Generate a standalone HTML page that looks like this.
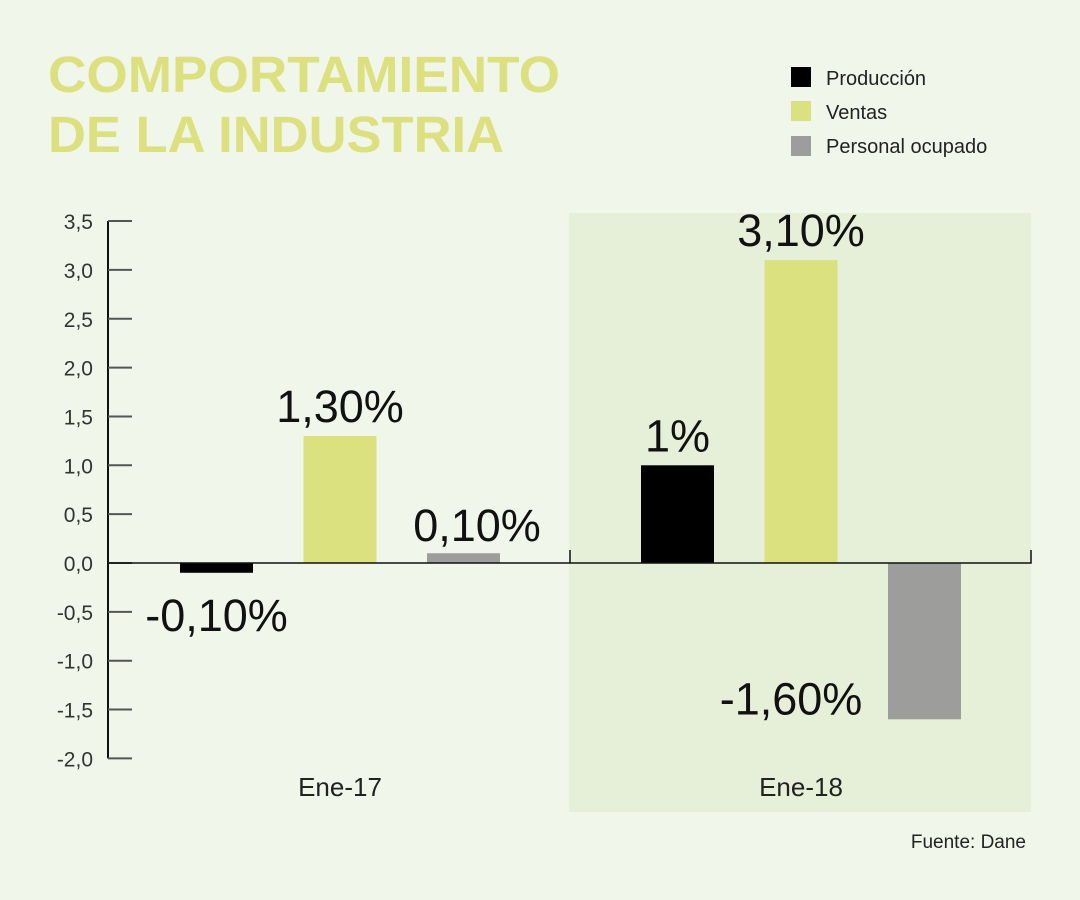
<!DOCTYPE html>
<html><head><meta charset="utf-8"><style>
body{margin:0;background:#f1f6ea;}
svg{display:block;font-family:"Liberation Sans",sans-serif;}
</style></head><body>
<svg width="1080" height="900">
<rect width="1080" height="900" fill="#f1f6ea"/>
<text x="48" y="92" font-size="51" font-weight="bold" fill="#dce07e" textLength="512" lengthAdjust="spacingAndGlyphs">COMPORTAMIENTO</text>
<text x="48" y="152" font-size="51" font-weight="bold" fill="#dce07e" textLength="456" lengthAdjust="spacingAndGlyphs">DE LA INDUSTRIA</text>
<g>
<rect x="791" y="67" width="20" height="20" fill="#000"/>
<text x="826" y="85" font-size="20" fill="#222">Producción</text>
<rect x="791" y="101" width="20" height="20" fill="#dce17f"/>
<text x="826" y="119" font-size="20" fill="#222">Ventas</text>
<rect x="791" y="136" width="20" height="20" fill="#9d9d9b"/>
<text x="826" y="153" font-size="20" fill="#222">Personal ocupado</text>
</g>
<rect x="569" y="213" width="462" height="599" fill="#e6f0d8"/>
<g id="plot"></g>
<text x="1026" y="848" font-size="19" fill="#222" text-anchor="end">Fuente: Dane</text>
</svg>
<script>
const groups=["Ene-17","Ene-18"];
const produccion=[-0.1,1.0];
const ventas=[1.3,3.1];
const personal=[0.1,-1.6];
const labelsProd=["-0,10%","1%"];
const labelsVentas=["1,30%","3,10%"];
const labelsPers=["0,10%","-1,60%"];
const ticks=[3.5,3.0,2.5,2.0,1.5,1.0,0.5,0.0,-0.5,-1.0,-1.5,-2.0];
const tickLabels=["3,5","3,0","2,5","2,0","1,5","1,0","0,5","0,0","-0,5","-1,0","-1,5","-2,0"];
const NS="http://www.w3.org/2000/svg";
const g=document.getElementById('plot');
const y=v=>563-v*97.7;
function mk(t,a,txt){const e=document.createElementNS(NS,t);for(const k in a)e.setAttribute(k,a[k]);if(txt!==undefined)e.textContent=txt;g.appendChild(e);return e;}
let ax=mk('line',{x1:108,x2:108,y1:y(3.5),y2:y(-2),stroke:'#111','stroke-width':2});


ticks.forEach((t,i)=>{
 let l=mk('line',{x1:108,x2:132,y1:y(t),y2:y(t),stroke:'#555','stroke-width':2});
 
 
 let tx=mk('text',{x:93,y:y(t)+8,'font-size':21,fill:'#333','text-anchor':'end'},tickLabels[i]);
 
 
});
const groupX=[180,641];
const series=[[produccion,'#000',labelsProd,'produccion'],[ventas,'#dce17f',labelsVentas,'ventas'],[personal,'#9d9d9b',labelsPers,'personal']];
groups.forEach((gn,gi)=>{
 series.forEach((s,si)=>{
  const v=s[0][gi];const x=groupX[gi]+si*123.5;
  const top=Math.min(y(v),y(0)),h=Math.abs(y(v)-y(0));
  let r=mk('rect',{x:x,y:top,width:73,height:h,fill:s[1]});
  
  
  let lx=x+36.5,ly=v>=0?y(v)-14:y(v)+58;
  if(v>=0&&si==2&&v<0.5){lx=x+50;ly=y(v)-12;}
  if(v<0&&si==2){lx=x-97;ly=y(v)-5;}
  let t=mk('text',{x:lx,y:ly,'font-size':45,fill:'#111','text-anchor':'middle'},s[2][gi]);
  
  
 });
 let gl=mk('text',{x:groupX[gi]+160,y:796,'font-size':26,fill:'#222','text-anchor':'middle'},gn);
 
 
});
let z=mk('path',{d:`M108 ${y(0)} H1031 V${y(0)-13} M570 ${y(0)} V${y(0)-13}`,stroke:'#111','stroke-width':1.5,fill:'none'});


</script>
</body></html>
